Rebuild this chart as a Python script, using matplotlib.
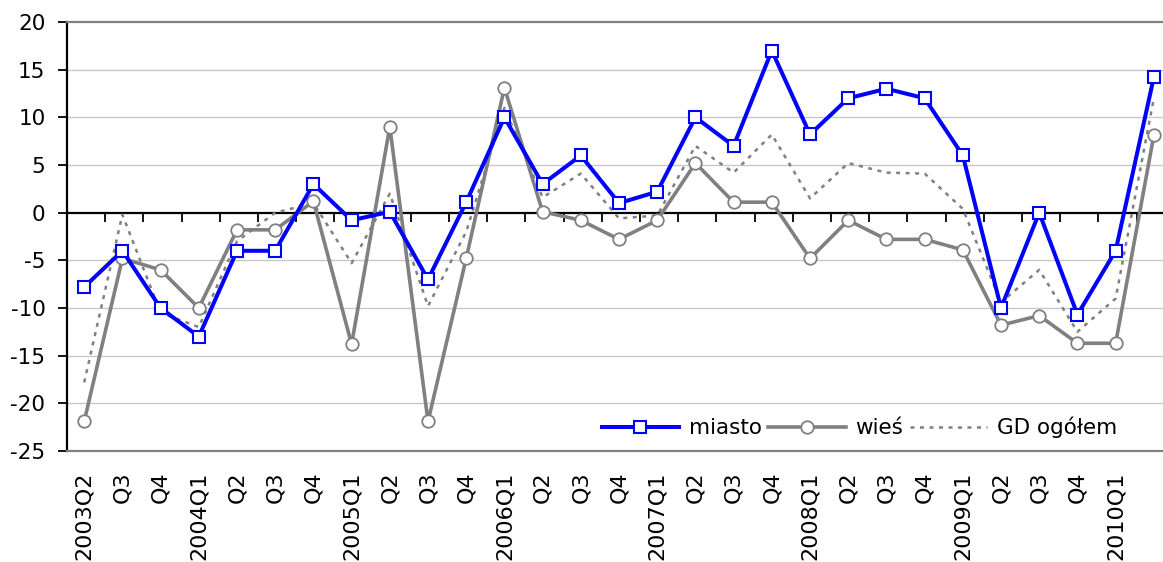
import numpy as np
import matplotlib
matplotlib.use("Agg")
import matplotlib.pyplot as plt

quarters = ["2003Q2", "Q3", "Q4",
            "2004Q1", "Q2", "Q3", "Q4",
            "2005Q1", "Q2", "Q3", "Q4",
            "2006Q1", "Q2", "Q3", "Q4",
            "2007Q1", "Q2", "Q3", "Q4",
            "2008Q1", "Q2", "Q3", "Q4",
            "2009Q1", "Q2", "Q3", "Q4",
            "2010Q1", "Q2"]

miasto = [-7.8, -4, -10, -13, -4, -4, 3, -0.8, 0.1, -7, 1.1,
          10, 3, 6, 1, 2.2, 10, 7, 17, 8.2, 12, 13, 12, 6,
          -10, 0, -10.7, -4, 14.2]
wies = [-21.9, -4.8, -6, -10, -1.8, -1.8, 1.2, -13.8, 9, -21.9, -4.8,
        13.1, 0.1, -0.8, -2.8, -0.8, 5.2, 1.1, 1.1, -4.8, -0.8, -2.8, -2.8, -3.9,
        -11.8, -10.8, -13.7, -13.7, 8.1]
gd_ogolem = [-17.8, -0.2, -10.5, -12, -3, 0, 1, -5.3, 2, -9.8, -2,
             11, 1.6, 4.1, -0.6, -0.3, 7, 4.2, 8.2, 1.5, 5.2, 4.2, 4.1, 0.4,
             -9.4, -6, -12.5, -9, 12]

BLUE = "#0000ff"
GRAY = "#808080"


def main() -> None:
    plt.rcParams["font.family"] = ["DejaVu Sans"]
    plt.rcParams["axes.unicode_minus"] = False
    fig = plt.figure(figsize=(11.63, 5.62), dpi=100)
    # plot area in pixels: left 67, top 22, bottom 451, runs off the right edge
    ax = fig.add_axes([67 / 1163, (562 - 451) / 562, (1163 - 67) / 1163, 429 / 562])

    x = np.arange(len(quarters))
    ax.plot(x, miasto, color=BLUE, lw=2.9, marker="s", ms=8,
            mfc="white", mec=BLUE, mew=1.5, label="miasto", zorder=5)
    ax.plot(x, wies, color=GRAY, lw=2.6, marker="o", ms=9,
            mfc="white", mec=GRAY, mew=1.3, label="wieś", zorder=4)
    ax.plot(x, gd_ogolem, color=GRAY, lw=1.8, ls=(0, (1.6, 2.2)),
            label="GD ogółem", zorder=3)

    ax.set_ylim(-25, 20)
    ax.set_xlim(-0.45, 28.24)
    ax.set_yticks(np.arange(-25, 21, 5))
    for v in np.arange(-20, 20, 5):
        if v != 0:
            ax.axhline(v, color="#c8c8c8", lw=1, zorder=1)
    ax.axhline(0, color="black", lw=1.6, zorder=2)

    ax.set_xticks(x)
    ax.set_xticklabels(quarters, rotation=90, va="top", ha="center")
    # last category label falls off the cropped right edge in the original
    ax.get_xticklabels()[-1].set_visible(False)
    ax.tick_params(axis="x", length=0, pad=15, labelsize=16)
    ax.tick_params(axis="y", length=6.5, width=1.3, labelsize=15.5, pad=9)

    ax.spines["left"].set_linewidth(1.6)
    ax.spines["left"].set_color("black")
    for s in ["top", "bottom"]:
        ax.spines[s].set_color(GRAY)
        ax.spines[s].set_linewidth(1.6)
    ax.spines["right"].set_visible(False)

    # category boundary ticks on the zero line, pointing up
    sec = ax.secondary_xaxis(25 / 45)
    sec.set_xticks(x + 0.55)
    sec.tick_params(axis="x", direction="in", length=6.5, width=1.3,
                    labelbottom=False, labeltop=False)
    sec.spines["bottom"].set_visible(False)
    sec.spines["top"].set_visible(False)

    ax.legend(loc="lower right", bbox_to_anchor=(0.97, 0.0), ncol=3,
              frameon=False, fontsize=15.5, handlelength=3.6,
              handletextpad=0.45, columnspacing=0.3, borderaxespad=0.2)

    fig.savefig("out.png", dpi=100)
    plt.close(fig)


if __name__ == "__main__":
    main()
